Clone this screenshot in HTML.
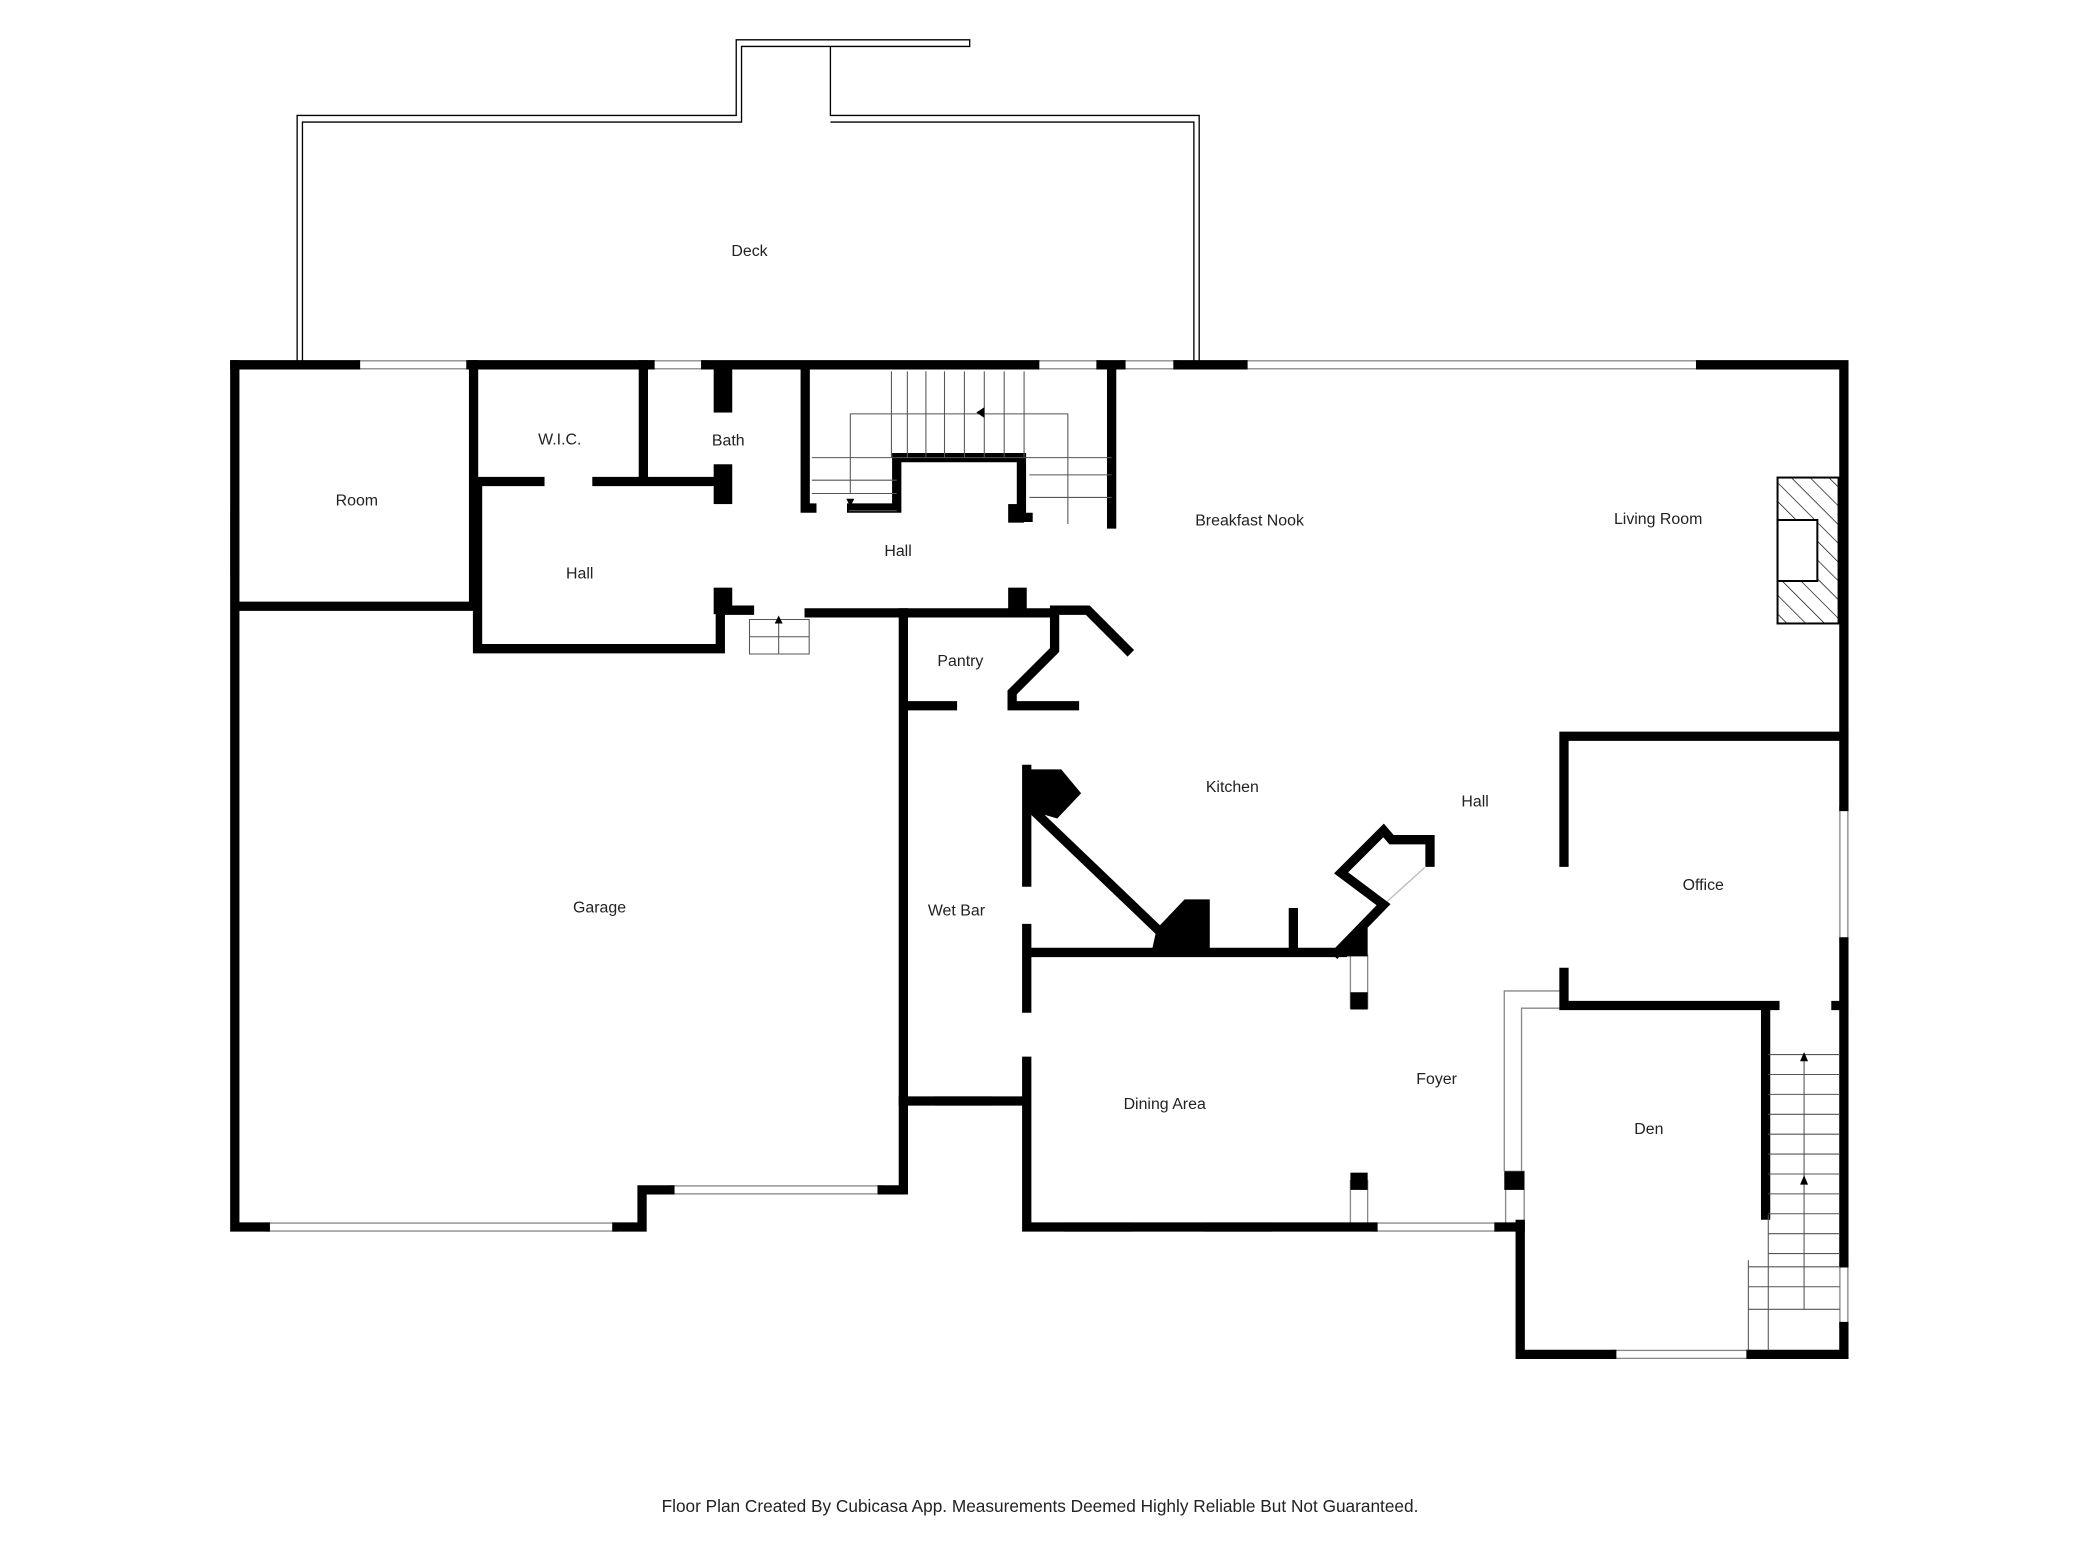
<!DOCTYPE html>
<html><head><meta charset="utf-8"><style>
html,body{margin:0;padding:0;background:#fff}
svg{display:block}
text{font-family:"Liberation Sans",sans-serif;font-size:12px;fill:#222;text-anchor:middle}
</style></head><body>
<svg width="2080" height="1560" viewBox="0 0 1568 1176" xmlns="http://www.w3.org/2000/svg">
<defs>
<pattern id="h" width="10" height="10" patternUnits="userSpaceOnUse" patternTransform="rotate(-45)">
<line x1="0" y1="0" x2="0" y2="10" stroke="#000" stroke-width="1"/></pattern>
</defs>
<rect width="1568" height="1176" fill="#fff"/>
<!-- deck -->
<g fill="none" stroke="#000" stroke-width="1">
<polyline points="224,275 224,87 555,87 555,30 731,30 731,35 559,35 559,92 228,92 228,275"/>
<polyline points="626,35 626,87 904,87 904,275"/>
<polyline points="626,92 900,92 900,275"/>
</g>
<!-- windows (thin) -->
<g fill="#fff" stroke="#888" stroke-width="1">
<rect x="268" y="272" width="87" height="6"/>
<rect x="490" y="272" width="42" height="6"/>
<rect x="780" y="272" width="50" height="6"/>
<rect x="845" y="272" width="43" height="6"/>
<rect x="937" y="272" width="345" height="6"/>
<rect x="1387" y="608" width="6" height="102"/>
<rect x="1387" y="952" width="6" height="49"/>
<rect x="1215" y="1018" width="105" height="6"/>
<rect x="803" y="922" width="50" height="6"/>
<rect x="908" y="922" width="50" height="6"/>
<rect x="1035" y="922" width="95" height="6"/>
<rect x="705" y="827" width="43" height="6"/>
<rect x="200" y="922" width="265" height="6"/>
<rect x="505" y="894" width="160" height="6"/>
<rect x="174" y="385" width="6" height="48"/>
<rect x="1018" y="720" width="13" height="40"/>
<rect x="1018" y="890" width="13" height="35"/>
<rect x="1135" y="883" width="14" height="40"/>
</g>
<path d="M1134,883V747H1176 M1147,883V760H1176" fill="none" stroke="#888" stroke-width="1"/>
<path d="M1074,654L1043,682" stroke="#bbb" stroke-width="1"/>
<!-- walls -->
<g stroke="#000" stroke-width="7" fill="none" stroke-linecap="square">
<path d="M177,275H268 M355,275H490 M532,275H780 M830,275H845 M888,275H937 M1282,275H1390V555 M1390,555V608 M1390,710V952 M1390,1000V1021H1320 M1215,1021H1146V923"/>
<path d="M177,275V925H200 M465,925H484V897H505 M665,897H681V462H610 M565,460H543V489H360V365 M177,457H357V275"/>
<path d="M360,363H407 M450,363H545 M485,275V360 M607,280V383H612 M642,383H676V345H770V390H775 M838,280V395"/>
<path d="M681,830H774V925H1035 M1130,925H1146 M774,580V665 M774,700V760 M774,800V830"/>
<path d="M681,462H795V490L763,522V532H810 M685,532H718 M795,460H820L850,490 M778,610L872,700 M775,718H1012 M975,688V718"/>
<path d="M1179,555H1390 M1179,555V650 M1179,733V758H1338 M1331,758V916 M1384,758H1390"/>
<path d="M1008,718L1043,682L1011,658L1043,626L1049,633H1078V650"/>
</g>
<g fill="#000">
<rect x="538" y="275" width="14" height="36"/><rect x="538" y="350" width="14" height="30"/>
<rect x="538" y="443" width="14" height="20"/><rect x="760" y="443" width="14" height="17"/>
<rect x="760" y="380" width="12" height="14"/>
<polygon points="773,580 800,580 815,598 797,617 773,610"/>
<polygon points="872,700 893,678 912,678 912,718 868,718"/>
<polygon points="1005,718 1031,695 1031,721 1005,721"/>
<rect x="1018" y="748" width="13" height="13"/><rect x="1018" y="884" width="13" height="13"/>
<rect x="1134" y="883" width="15" height="14"/>
</g>
<!-- stairs -->
<g stroke="#555" stroke-width="0.8" fill="none">
<path d="M672,280V345 M684,280V345 M698,280V345 M712,280V345 M727,280V345 M742,280V345 M757,280V345 M772,280V345"/>
<path d="M641,372V312H805V395 M612,345H838 M612,362H676 M612,372H676 M776,358H838 M776,375H838 M640,385H676 M805,345V395"/>
<path d="M565,467H610V493H565Z M565,480H610 M587,467V493"/>
<path d="M1333,795H1387 M1333,810H1387 M1333,825H1387 M1333,840H1387 M1333,855H1387 M1333,870H1387 M1333,885H1387 M1333,900H1387 M1333,915H1387 M1333,930H1387 M1333,945H1387 M1360,795V987H1318 M1318,950V1018 M1318,955H1387 M1318,970H1387 M1318,987H1387 M1333,916V1018"/>
</g>
<g fill="#000"><polygon points="736,311 742,307 742,315"/><polygon points="638,376 644,376 641,382"/><polygon points="584,470 590,470 587,464"/><polygon points="1357,800 1363,800 1360,793"/><polygon points="1357,893 1363,893 1360,886"/></g>
<!-- fireplace -->
<rect x="1340" y="360" width="46" height="110" fill="url(#h)" stroke="#000" stroke-width="1.5"/>
<rect x="1340" y="392" width="30" height="46" fill="#fff" stroke="#000" stroke-width="1.5"/>
<!-- labels -->
<text x="565" y="193">Deck</text>
<text x="422" y="335">W.I.C.</text>
<text x="549" y="336">Bath</text>
<text x="269" y="381">Room</text>
<text x="437" y="436">Hall</text>
<text x="677" y="419">Hall</text>
<text x="942" y="396">Breakfast Nook</text>
<text x="1250" y="395">Living Room</text>
<text x="724" y="502">Pantry</text>
<text x="929" y="597">Kitchen</text>
<text x="1112" y="608">Hall</text>
<text x="1284" y="671">Office</text>
<text x="452" y="688">Garage</text>
<text x="721" y="690">Wet Bar</text>
<text x="1083" y="817">Foyer</text>
<text x="878" y="836">Dining Area</text>
<text x="1243" y="855">Den</text>
<text x="784" y="1140" style="font-size:13px">Floor Plan Created By Cubicasa App. Measurements Deemed Highly Reliable But Not Guaranteed.</text>
</svg>
</body></html>
